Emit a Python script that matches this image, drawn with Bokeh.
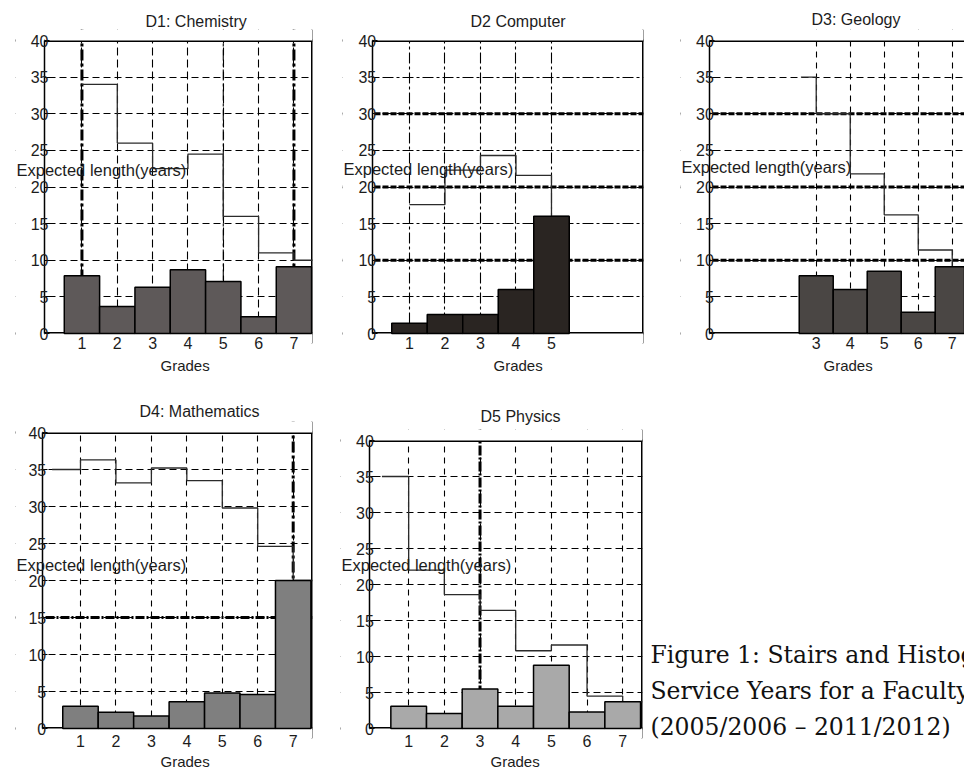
from bokeh.plotting import figure
from bokeh.models import Range1d, FixedTicker, Span, Label, Spacer, BoxAnnotation, Title
from bokeh.layouts import row, column
from bokeh.core.properties import value
from bokeh.embed import file_html
from bokeh.resources import INLINE

# ---------------- data ----------------
y_ticks = [0, 5, 10, 15, 20, 25, 30, 35, 40]

d1_title = "D1: Chemistry"
d1_grades = [1, 2, 3, 4, 5, 6, 7]
d1_hist = [7.9, 3.7, 6.3, 8.7, 7.1, 2.3, 9.1]
d1_stair_x = [1, 2, 3, 4, 5, 6, 7, 7.56]
d1_stair_y = [34, 26, 22.5, 24.5, 16, 11, 10]

d2_title = "D2 Computer"
d2_grades = [1, 2, 3, 4, 5]
d2_hist = [1.4, 2.6, 2.6, 6.0, 16.0]
d2_stair_x = [1, 2, 3, 4, 5, 5.5]
d2_stair_y = [17.6, 22.3, 24.3, 21.6, 16.0]

d3_title = "D3: Geology"
d3_grades = [3, 4, 5, 6, 7]
d3_hist = [7.9, 6.0, 8.5, 2.9, 9.1]
d3_stair_x = [2.55, 3, 4, 5, 6, 7, 7.4]
d3_stair_y = [35, 30, 21.8, 16.2, 11.4, 9.1]

d4_title = "D4: Mathematics"
d4_grades = [1, 2, 3, 4, 5, 6, 7]
d4_hist = [3.0, 2.2, 1.7, 3.6, 4.8, 4.6, 20.0]
d4_stair_x = [0.2, 1, 2, 3, 4, 5, 6, 7, 7.56]
d4_stair_y = [35, 36.3, 33.2, 35.2, 33.5, 29.8, 24.6, 20.0]

d5_title = "D5 Physics"
d5_grades = [1, 2, 3, 4, 5, 6, 7]
d5_hist = [3.1, 2.1, 5.5, 3.1, 8.8, 2.3, 3.7]
d5_stair_x = [0.25, 1, 2, 3, 4, 5, 6, 7, 7.56]
d5_stair_y = [35, 22, 18.6, 16.4, 10.8, 11.6, 4.5, 3.7]

y_label = "Expected length(years)"
x_label = "Grades"
caption_lines = ["Figure 1: Stairs and Histograms",
                 "Service Years for a Faculty",
                 "(2005/2006 \u2013 2011/2012)"]

SANS = "Liberation Sans"
TXT = "#1c1c1c"
PAD_TOP, PAD_BOT = 11, 10   # px of blank frame above / below the axes box


def make_panel(title, grades, hist, sx, sy, bar_color, g, grid, heavy, box_right=True):
    fl, bxp, fr, bxv, ppu = g["fl"], g["bxp"], g["fr"], g["bxv"], g["ppu"]
    x_lo = bxv - (bxp - fl) / ppu
    x_hi = bxv + (fr - bxp) / ppu
    ppy = g["fh"] / 40.0
    y_lo = -PAD_BOT / ppy
    y_hi = 40 + PAD_TOP / ppy
    p = figure(output_backend="svg", toolbar_location=None,
               frame_width=fr - fl, frame_height=g["fh"] + PAD_TOP + PAD_BOT,
               min_border_left=g["bl"], min_border_right=g["br"],
               min_border_top=g["bt"], min_border_bottom=g["bb"],
               x_range=Range1d(x_lo, x_hi), y_range=Range1d(y_lo, y_hi),
               background_fill_color="white", border_fill_color="white")
    p.outline_line_color = None

    # title (left aligned + offset so it sits where the reference has it)
    p.title.text = title
    p.title.align = "left"
    p.title.offset = g["to"]
    p.title.standoff = g["ts"]
    p.title.text_font = SANS
    p.title.text_font_size = "16px"
    p.title.text_font_style = "normal"
    p.title.text_color = TXT

    # axes
    p.xaxis.ticker = FixedTicker(ticks=grades)
    p.yaxis.ticker = FixedTicker(ticks=y_ticks)
    for ax in (p.xaxis[0], p.yaxis[0]):
        ax.minor_tick_line_color = None
        ax.major_label_text_font = SANS
        ax.major_label_text_font_size = "16px"
        ax.major_label_text_color = TXT
    p.xaxis.axis_line_color = None
    p.xaxis.major_tick_line_color = None
    p.xaxis.major_label_standoff = g["xs"]
    p.yaxis.axis_line_width = 1.5
    p.yaxis.major_tick_in = 5
    p.yaxis.major_tick_out = 0
    p.yaxis.major_label_standoff = -4
    p.yaxis.fixed_location = bxv
    p.yaxis.bounds = (0, 40)

    p.add_layout(Title(text=x_label, align="left", offset=g["go"], standoff=g["gs"],
                       text_font=SANS, text_font_size="15px", text_font_style="normal",
                       text_color=TXT), "below")

    # grid
    p.xgrid.grid_line_color = "black"
    p.xgrid.grid_line_width = 1.1
    p.xgrid.grid_line_dash = grid["x"]
    p.ygrid.grid_line_color = "black"
    p.ygrid.grid_line_width = 1.1
    p.ygrid.grid_line_dash = grid["y"]
    for dim, loc, w, dash in heavy:
        p.add_layout(Span(location=loc, dimension=dim, line_color="black",
                          line_width=w, line_dash=dash, level="underlay"))
    # axes box borders
    for loc in (0, 40):
        p.add_layout(Span(location=loc, dimension="width", line_color="black",
                          line_width=3, level="underlay"))
    if box_right:
        p.add_layout(Span(location=x_hi, dimension="height", line_color="black",
                          line_width=3, level="underlay"))
    # blank areas of the frame outside the axes box
    for l, r, b, t in ((x_lo, bxv, y_lo, y_hi), (bxv, x_hi, 40, y_hi), (bxv, x_hi, y_lo, 0)):
        p.add_layout(BoxAnnotation(left=l, right=r, bottom=b, top=t,
                                   fill_color="white", fill_alpha=1.0,
                                   line_color=None, level="underlay"))

    # stairs and histogram
    p.step(x=sx, y=sy + [sy[-1]], mode="after", line_color="#2b2b2b", line_width=1.3)
    p.vbar(x=grades, top=hist, width=1.0, bottom=0, fill_color=bar_color,
           line_color="black", line_width=1.5)

    # horizontal y label
    p.add_layout(Label(x=x_lo, y=g["ly"], x_offset=1, text=y_label,
                       text_font=SANS, text_font_size="16.5px", text_color=TXT,
                       text_align="left", text_baseline="middle"))
    return p


dash_x = "8 4"
dash_y = "7 4"
dashdot = "11 3 3 3"
heavy_dash = "6 2"

row1 = dict(bt=29, fh=293, bb=37, gs=7, xs=-13)
row2 = dict(bt=41, fh=296, bb=32, gs=2, xs=-10)

p1 = make_panel(d1_title, d1_grades, d1_hist, d1_stair_x, d1_stair_y, "#5e5959",
                dict(row1, bl=15, br=10, fl=15, bxp=44, fr=312, bxv=-0.06, ppu=35.33,
                     to=130, ts=0, go=145, ly=22.3),
                dict(x=dash_x, y=dash_y),
                [("height", 1, 3, dashdot), ("height", 7, 3, dashdot),
                 ("height", 5, 1.1, dashdot)])

p2 = make_panel(d2_title, d2_grades, d2_hist, d2_stair_x, d2_stair_y, "#2a2522",
                dict(row1, bl=20, br=17, fl=342, bxp=371.7, fr=643, bxv=-0.05, ppu=35.5,
                     to=128, ts=0, go=151, ly=22.5),
                dict(x=dashdot, y=dashdot),
                [("width", 10, 3, heavy_dash), ("width", 20, 3, heavy_dash),
                 ("width", 30, 3, heavy_dash)])

p3 = make_panel(d3_title, d3_grades, d3_hist, d3_stair_x, d3_stair_y, "#4a4644",
                dict(row1, bl=20, br=0, fl=680, bxp=709.3, fr=964, bxv=-0.13, ppu=34.0,
                     to=131, ts=4, go=143, ly=22.7),
                dict(x="6 5", y=dash_y),
                [("width", 10, 3, heavy_dash), ("width", 20, 3, heavy_dash),
                 ("width", 30, 3, heavy_dash)],
                box_right=False)

p4 = make_panel(d4_title, d4_grades, d4_hist, d4_stair_x, d4_stair_y, "#7f7f7f",
                dict(row2, bl=15, br=13, fl=15, bxp=41.7, fr=312, bxv=-0.08, ppu=35.45,
                     to=124, ts=3, go=145, ly=22.1),
                dict(x="6 5", y=dash_y),
                [("height", 7, 3, dashdot), ("width", 15, 3, "9 2 2 2")])

p5 = make_panel(d5_title, d5_grades, d5_hist, d5_stair_x, d5_stair_y, "#a9a9a9",
                dict(row2, fh=288, bl=15, br=6, fl=340, bxp=369.3, fr=642, bxv=-0.09, ppu=35.67,
                     to=140, ts=9, go=150, ly=22.7),
                dict(x="6 5", y=dash_y),
                [("height", 3, 3, "10 2 2 2")])

# caption panel (page pixel coordinates)
cap_w, cap_h = 316, 390
p6 = figure(output_backend="svg", toolbar_location=None, title=None,
            x_axis_type=None, y_axis_type=None,
            frame_width=cap_w, frame_height=cap_h,
            min_border_left=0, min_border_right=0, min_border_top=0, min_border_bottom=0,
            x_range=Range1d(648, 648 + cap_w), y_range=Range1d(380 + cap_h, 380))
p6.grid.visible = False
p6.outline_line_color = None
p6.text(x=[650, 650, 650], y=[654, 690, 726], text=caption_lines,
        text_font=value("DejaVu Serif"), text_font_size="23.5px",
        text_color="#111111", text_baseline="alphabetic", text_align="left")

layout = column(row(p1, p2, p3, spacing=0),
                row(p4, column(Spacer(width=323, height=8), p5, spacing=0),
                    column(p6, spacing=0), spacing=0),
                spacing=0)

open("out.html", "w").write(file_html(layout, INLINE))
